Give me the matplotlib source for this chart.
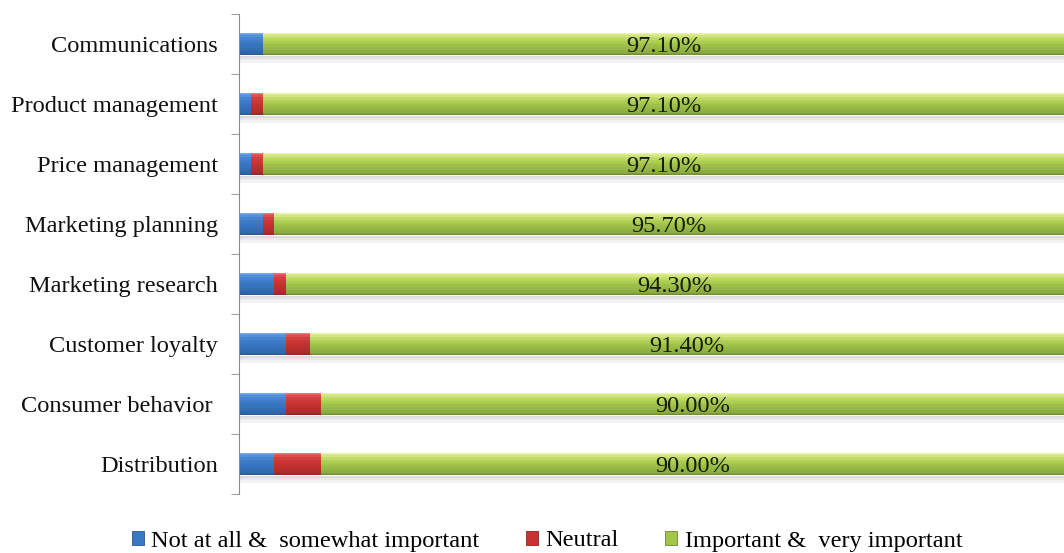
import numpy as np
import matplotlib
matplotlib.use("Agg")
import matplotlib.pyplot as plt
from matplotlib.colors import to_rgb
from matplotlib.patches import Patch

plt.rcParams['font.family'] = ['Liberation Serif', 'DejaVu Serif']

categories = ["Communications", "Product management", "Price management",
              "Marketing planning", "Marketing research", "Customer loyalty",
              "Consumer behavior ", "Distribution"]
not_important = [2.9, 1.4, 1.4, 2.9, 4.3, 5.7, 5.7, 4.3]
neutral = [0.0, 1.5, 1.5, 1.4, 1.4, 2.9, 4.3, 5.7]
important = [97.1, 97.1, 97.1, 95.7, 94.3, 91.4, 90.0, 90.0]
series_names = ["Not at all &  somewhat important", "Neutral", "Important &  very important"]

# colour stops top -> bottom for the bevelled bar look
STOPS = {
    "blue": [(0.0, "#7fb2ea"), (0.18, "#4a8ad6"), (0.45, "#3a78c4"), (0.85, "#3068b0"), (1.0, "#285892")],
    "red": [(0.0, "#f08080"), (0.18, "#d84444"), (0.45, "#c83232"), (0.85, "#b02c2c"), (1.0, "#8e2424")],
    "green": [(0.0, "#f0f6b0"), (0.2, "#c8e070"), (0.45, "#a6c84c"), (0.85, "#8cad40"), (1.0, "#6a8632")],
}
FLAT = {"blue": "#3a78c4", "red": "#c83232", "green": "#a2c64a"}
H = 0.38
N = 16
FS = 17.6


def grad_color(stops, t):
    ts = [s[0] for s in stops]
    cs = np.array([to_rgb(s[1]) for s in stops])
    return tuple(np.interp(t, ts, cs[:, k]) for k in range(3))


def gradient_barh(ax, y, width, left, key):
    for i in range(N):
        t = (i + 0.5) / N
        ax.barh(y - H / 2 + (i + 0.5) * H / N, width, height=H / N * 1.02, left=left,
                color=grad_color(STOPS[key], t), linewidth=0)


fig = plt.figure(figsize=(10.64, 5.53), dpi=100)
ax = fig.add_axes([0.2246, 0.1067, 0.7754, 0.868])

y = np.arange(len(categories))
left2 = np.array(not_important) + np.array(neutral)
total = left2 + np.array(important)

# soft shadow below each bar
for k, a in enumerate([0.35, 0.22, 0.1]):
    ax.barh(y + H / 2 + 0.025 + k * 0.04, total, height=0.04, left=0,
            color="#9a9aa8", alpha=a, linewidth=0)

gradient_barh(ax, y, not_important, 0, "blue")
gradient_barh(ax, y, neutral, not_important, "red")
gradient_barh(ax, y, important, left2, "green")

for yi, l, v in zip(y, left2, important):
    ax.text(l + v / 2, yi + 0.04, f"{v:.2f}%", ha="center", va="center",
            fontsize=FS, color="#141c0a")

ax.set_xlim(0, 100)
ax.set_ylim(len(categories) - 0.5, -0.5)
ax.set_yticks(y)
ax.set_yticklabels(categories, fontsize=FS, color="#111111")
ax.set_yticks(np.arange(-0.5, len(categories)), minor=True)
ax.tick_params(axis="y", which="major", length=0, pad=15)
ax.tick_params(axis="y", which="minor", length=6, color="#8a8a8a", direction="out")
ax.set_xticks([])
for s in ["top", "right", "bottom"]:
    ax.spines[s].set_visible(False)
ax.spines["left"].set_color("#8a8a8a")

handles = [Patch(facecolor=FLAT[k], edgecolor=grad_color(STOPS[k], 1.0), linewidth=0.6)
           for k in ["blue", "red", "green"]]
fig.legend(handles, series_names, loc="center", bbox_to_anchor=(547 / 1064, 1 - 541 / 553),
           ncol=3, frameon=False, fontsize=FS, handlelength=0.5, handleheight=0.5,
           handletextpad=0.3, columnspacing=1.9)

fig.savefig("out.png", dpi=100)
